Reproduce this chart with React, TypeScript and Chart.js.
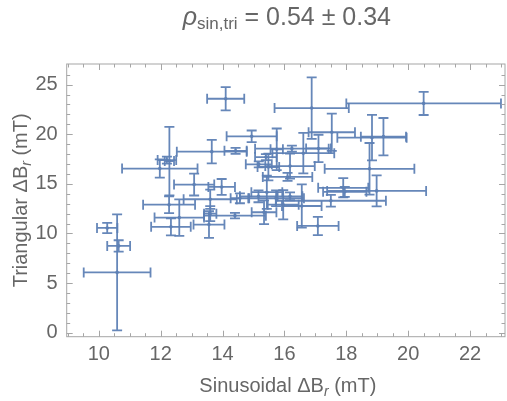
import React, { useEffect, useRef } from "react";
import { Chart, registerables } from "chart.js";

Chart.register(...registerables);

// Sinusoidal ΔB_r (mT)
const xValues = [10.59, 10.27, 10.64, 11.97, 12.28, 12.2, 13.65, 14.1, 14.94, 16.88, 20.5, 17.53, 18.83, 19.2, 14.42, 16.61, 17.1, 18.75, 13.08, 12.27, 12.6, 12.33, 13.56, 13.6, 14.4, 13.6, 13.97, 18.98, 17.9, 17.95, 17.5, 17.08, 16.56, 15.96, 15.34, 14.56, 15.16, 15.43, 15.73, 16.18, 16.18, 15.75, 15.17, 15.48, 15.4, 16.24, 16.1];
// Triangular ΔB_r (mT)
const yValues = [6.08, 10.56, 8.75, 16.54, 17.3, 17.4, 18.25, 23.58, 19.79, 22.64, 23.11, 20.2, 19.66, 19.76, 18.33, 18.09, 18.57, 16.52, 14.93, 12.9, 11.6, 10.67, 10.9, 12.0, 11.8, 13.45, 14.69, 14.29, 14.6, 14.2, 13.3, 10.76, 12.77, 12.9, 12.14, 13.55, 13.75, 14.16, 13.55, 13.75, 16.79, 18.48, 16.97, 16.7, 17.7, 18.55, 15.7];
const xErrors = [1.08, 0.33, 0.37, 1.22, 0.15, 0.3, 1.13, 0.6, 0.81, 1.2, 2.5, 0.75, 1.12, 0.73, 0.36, 1.0, 0.4, 1.45, 0.65, 0.84, 0.8, 0.64, 0.5, 0.2, 1.0, 0.86, 0.43, 1.6, 0.81, 0.7, 1.78, 0.67, 0.64, 0.5, 0.4, 0.3, 0.6, 0.5, 0.9, 0.4, 0.8, 0.2, 0.42, 0.35, 0.35, 1.19, 0.8];
const yErrors = [5.85, 0.52, 0.57, 0.92, 3.45, 0.35, 1.19, 1.17, 0.59, 3.1, 1.17, 1.88, 2.3, 1.88, 0.3, 2.04, 1.38, 2.6, 1.1, 0.84, 1.84, 0.85, 1.34, 0.75, 0.27, 0.97, 0.8, 1.56, 0.97, 0.5, 0.6, 0.92, 2.18, 1.47, 1.2, 0.5, 0.6, 1.67, 0.8, 0.4, 1.26, 2.1, 0.3, 1.35, 0.3, 0.3, 0.4];

const xTickValues = [10, 12, 14, 16, 18, 20, 22];
const yTickValues = [0, 5, 10, 15, 20, 25];
const xMinorTicks = [9, 9.5, 10.5, 11, 11.5, 12.5, 13, 13.5, 14.5, 15, 15.5, 16.5, 17, 17.5, 18.5, 19, 19.5, 20.5, 21, 21.5, 22.5, 23];
const yMinorTicks = [1, 2, 3, 4, 6, 7, 8, 9, 11, 12, 13, 14, 16, 17, 18, 19, 21, 22, 23, 24, 26];

const X_MIN = 8.96;
const X_MAX = 23.13;
const Y_MIN = -0.4;
const Y_MAX = 27.08;

const BLUE = "rgba(94,129,181,0.95)";
const TEXT = "#666666";
const FRAME = "#a6a6a6";
const FAMILY = "'Liberation Sans', Arial, Helvetica, sans-serif";

type Seg = { text: string; size: number; italic?: boolean; dy?: number };

function drawRich(ctx: CanvasRenderingContext2D, segs: Seg[], cx: number, baseline: number) {
  const widths: number[] = [];
  let total = 0;
  segs.forEach((s) => {
    ctx.font = `${s.italic ? "italic " : ""}${s.size}px ${FAMILY}`;
    const w = ctx.measureText(s.text).width;
    widths.push(w);
    total += w;
  });
  let x = cx - total / 2;
  segs.forEach((s, i) => {
    ctx.font = `${s.italic ? "italic " : ""}${s.size}px ${FAMILY}`;
    ctx.fillText(s.text, x, baseline + (s.dy || 0));
    x += widths[i];
  });
}

const errorBarPlugin = {
  id: "errorBars",
  beforeDatasetsDraw(chart: any) {
    const { ctx, scales } = chart;
    const xs = scales.x;
    const ys = scales.y;
    const cap = 5;
    ctx.save();
    ctx.strokeStyle = BLUE;
    ctx.lineWidth = 1.8;
    xValues.forEach((xv, i) => {
      const yv = yValues[i];
      const px = xs.getPixelForValue(xv);
      const py = ys.getPixelForValue(yv);
      const xl = xs.getPixelForValue(xv - xErrors[i]);
      const xr = xs.getPixelForValue(xv + xErrors[i]);
      const yt = ys.getPixelForValue(yv + yErrors[i]);
      const yb = ys.getPixelForValue(yv - yErrors[i]);
      ctx.beginPath();
      ctx.moveTo(xl, py);
      ctx.lineTo(xr, py);
      ctx.moveTo(xl, py - cap);
      ctx.lineTo(xl, py + cap);
      ctx.moveTo(xr, py - cap);
      ctx.lineTo(xr, py + cap);
      ctx.moveTo(px, yt);
      ctx.lineTo(px, yb);
      ctx.moveTo(px - cap, yt);
      ctx.lineTo(px + cap, yt);
      ctx.moveTo(px - cap, yb);
      ctx.lineTo(px + cap, yb);
      ctx.stroke();
    });
    ctx.restore();
  },
};

const framePlugin = {
  id: "frame",
  afterDraw(chart: any) {
    const { ctx, chartArea, scales } = chart;
    const { left, right, top, bottom } = chartArea;
    const xs = scales.x;
    const ys = scales.y;
    ctx.save();
    ctx.strokeStyle = FRAME;
    ctx.lineWidth = 1;
    ctx.strokeRect(left, top, right - left, bottom - top);
    ctx.beginPath();
    const major = 6;
    const minor = 3.5;
    const xt = (v: number, len: number) => {
      const p = Math.round(xs.getPixelForValue(v)) + 0.5;
      ctx.moveTo(p, bottom);
      ctx.lineTo(p, bottom - len);
      ctx.moveTo(p, top);
      ctx.lineTo(p, top + len);
    };
    const yt = (v: number, len: number) => {
      const p = Math.round(ys.getPixelForValue(v)) + 0.5;
      ctx.moveTo(left, p);
      ctx.lineTo(left + len, p);
      ctx.moveTo(right, p);
      ctx.lineTo(right - len, p);
    };
    xTickValues.forEach((v) => xt(v, major));
    xMinorTicks.forEach((v) => xt(v, minor));
    yTickValues.forEach((v) => yt(v, major));
    yMinorTicks.forEach((v) => yt(v, minor));
    ctx.stroke();

    // titles
    ctx.fillStyle = TEXT;
    ctx.textAlign = "left";
    ctx.textBaseline = "alphabetic";
    const cx = (left + right) / 2;
    drawRich(
      ctx,
      [
        { text: "ρ", size: 25, italic: true },
        { text: "sin,tri", size: 17, dy: 4 },
        { text: " = 0.54 ± 0.34", size: 25 },
      ],
      cx + 1,
      25
    );
    drawRich(
      ctx,
      [
        { text: "Sinusoidal ΔB", size: 20 },
        { text: "r", size: 14, italic: true, dy: 4 },
        { text: " (mT)", size: 20 },
      ],
      cx + 2,
      392
    );
    ctx.save();
    ctx.translate(27, (top + bottom) / 2);
    ctx.rotate(-Math.PI / 2);
    drawRich(
      ctx,
      [
        { text: "Triangular ΔB", size: 20 },
        { text: "r", size: 14, italic: true, dy: 4 },
        { text: " (mT)", size: 20 },
      ],
      0,
      0
    );
    ctx.restore();
    ctx.restore();
  },
};

export default function App() {
  const ref = useRef<HTMLCanvasElement>(null);
  useEffect(() => {
    if (!ref.current) return;
    const points = xValues.map((x, i) => ({ x, y: yValues[i] }));
    const chart = new Chart(ref.current, {
      type: "scatter",
      data: {
        datasets: [
          {
            data: points,
            pointRadius: 1.8,
            pointBackgroundColor: BLUE,
            pointBorderWidth: 0,
            pointHoverRadius: 1.8,
          },
        ],
      },
      options: {
        animation: false,
        responsive: false,
        events: [],
        layout: { padding: { top: 64, right: 2, left: 0, bottom: 0 } },
        plugins: {
          legend: { display: false },
          tooltip: { enabled: false },
          title: { display: false },
        },
        scales: {
          x: {
            type: "linear",
            min: X_MIN,
            max: X_MAX,
            grid: { display: false, drawTicks: false },
            border: { display: false },
            ticks: {
              color: TEXT,
              font: { family: FAMILY, size: 20 },
              padding: 6,
              maxRotation: 0,
              autoSkip: false,
            },
            afterBuildTicks: (s: any) => {
              s.ticks = xTickValues.map((v) => ({ value: v }));
            },
            afterFit: (s: any) => {
              s.height = 401 - 336.7;
            },
          },
          y: {
            type: "linear",
            min: Y_MIN,
            max: Y_MAX,
            grid: { display: false, drawTicks: false },
            border: { display: false },
            ticks: {
              color: TEXT,
              font: { family: FAMILY, size: 20 },
              padding: 9,
              autoSkip: false,
            },
            afterBuildTicks: (s: any) => {
              s.ticks = yTickValues.map((v) => ({ value: v }));
            },
            afterFit: (s: any) => {
              s.width = 66.7;
            },
          },
        },
      },
      plugins: [errorBarPlugin, framePlugin],
    });
    return () => chart.destroy();
  }, []);
  return (
    <div style={{ position: "absolute", left: 0, top: 0, width: 507, height: 401, background: "#fff" }}>
      <canvas ref={ref} width={507} height={401} style={{ width: 507, height: 401, display: "block" }} />
    </div>
  );
}
